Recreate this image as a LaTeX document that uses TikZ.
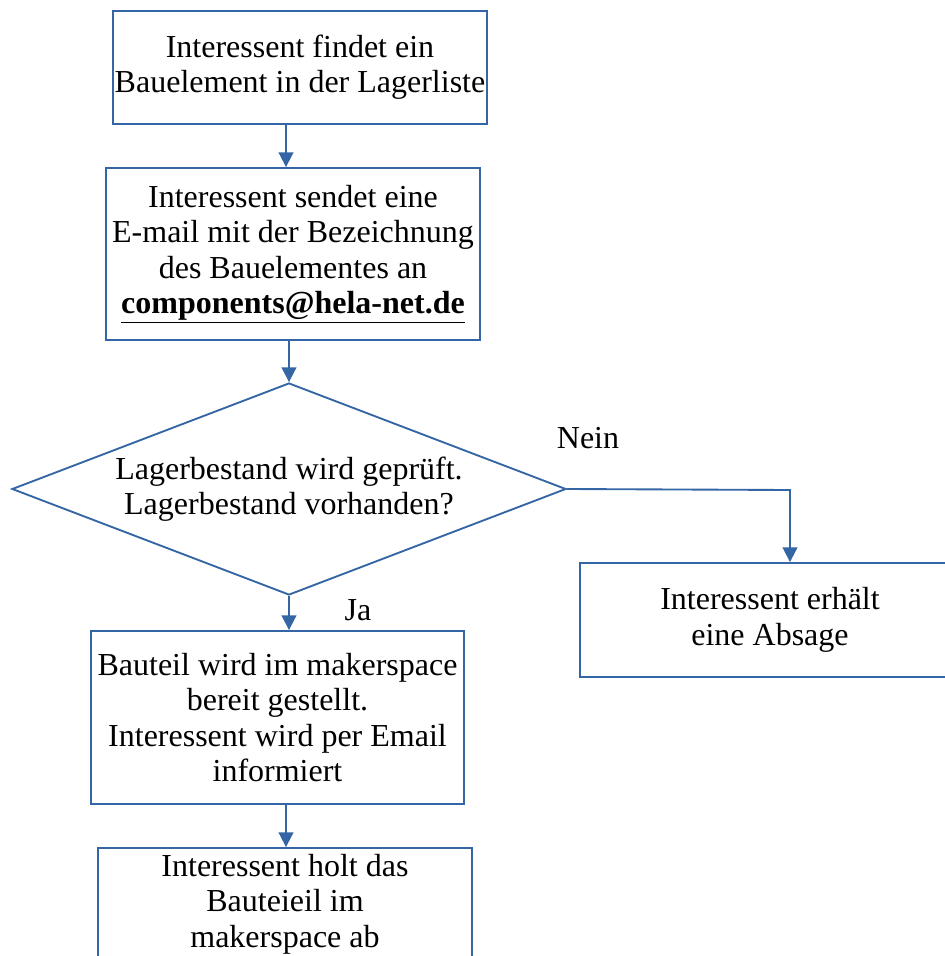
\documentclass[tikz,border=0pt]{standalone}
\usepackage{fontspec}
\setmainfont{Liberation Serif}
\usetikzlibrary{shapes.geometric,arrows.meta}
\definecolor{flowblue}{HTML}{3465A4}

\tikzset{
  stepbox/.style={draw=flowblue, line width=1.4pt, align=center, inner sep=0pt,
    font=\fontsize{24}{26.5}\selectfont},
  decision/.style={diamond, draw=flowblue, line width=1.4pt, align=center, inner sep=0pt,
    aspect=2.6, minimum width=415.5pt, minimum height=159pt,
    font=\fontsize{24}{26.5}\selectfont},
  flowlabel/.style={inner sep=0pt, font=\fontsize{24}{26.5}\selectfont},
  flow/.style={draw=flowblue, line width=1.4pt, -{Triangle[length=11pt,width=11pt]}}
}

\begin{document}
\begin{tikzpicture}[x=0.75pt, y=-0.75pt]
  \path[use as bounding box, clip] (0,0) rectangle (945,956);

  \node[stepbox, minimum width=280.5pt, minimum height=84.75pt] (find) at (300,67.5)
    {Interessent findet ein\\Bauelement in der Lagerliste};
  \node[stepbox, minimum width=280.5pt, minimum height=129pt] (mail) at (293,254)
    {Interessent sendet eine\\E-mail mit der Bezeichnung\\des Bauelementes an\\
     \textbf{\underline{components@hela-net.de}}};
  \node[decision] (check) at (289,489)
    {Lagerbestand wird geprüft.\\Lagerbestand vorhanden?};
  \node[stepbox, minimum width=285pt, minimum height=85.5pt] (absage) at (770,620)
    {Interessent erhält\\eine Absage};
  \node[stepbox, minimum width=279.75pt, minimum height=129.75pt] (ready) at (277.5,717.5)
    {Bauteil wird im makerspace\\bereit gestellt.\\Interessent wird per Email\\informiert};
  \node[stepbox, minimum width=280.5pt, minimum height=84pt] (fetch) at (285,904)
    {Interessent holt das\\Bauteieil im\\makerspace ab};

  \node[flowlabel] (nein) at (588,438) {Nein};
  \node[flowlabel] (ja) at (358,610) {Ja};

  \coordinate (col) at (286,0);
  \coordinate (bend) at (790,490);

  \draw[flow] (find.south -| col) -- (mail.north -| col);
  \draw[flow] (mail.south -| check.north) -- (check.north);
  \draw[flow] (check.south) -- (ready.north -| check.south);
  \draw[flow] (ready.south -| col) -- (fetch.north -| col);
  \draw[flow] (check.east) -- (bend) -- (absage.north -| bend);
\end{tikzpicture}
\end{document}
